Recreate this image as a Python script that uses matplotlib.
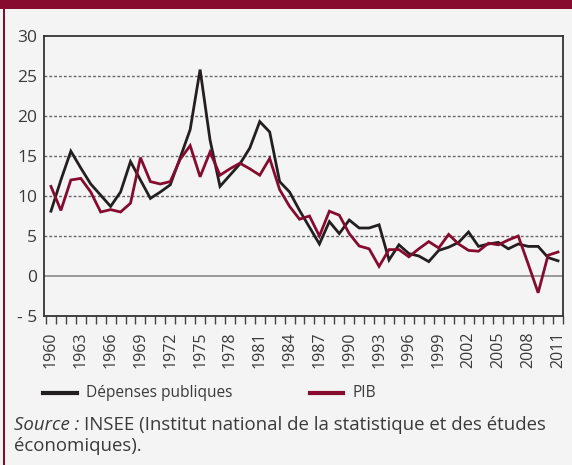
import matplotlib.pyplot as plt
from matplotlib.lines import Line2D
import numpy as np

# annual growth rates (%)
years = list(range(1960, 2012))
depenses = [8.1, 12.0, 15.6, 13.5, 11.5, 10.1, 8.7, 10.5, 14.3, 12.0,
            9.7, 10.5, 11.4, 14.8, 18.3, 25.8, 17.0, 11.2, 12.6, 14.0,
            16.0, 19.3, 18.0, 11.8, 10.5, 8.2, 6.1, 4.0, 6.8, 5.3,
            7.0, 6.0, 6.0, 6.4, 2.0, 3.9, 2.8, 2.5, 1.8, 3.2,
            3.6, 4.2, 5.5, 3.7, 4.0, 4.2, 3.4, 4.0, 3.7, 3.7,
            2.3, 1.9]
pib = [11.2, 8.2, 12.0, 12.2, 10.5, 8.0, 8.3, 8.0, 9.1, 14.8,
       11.8, 11.5, 11.8, 14.6, 16.3, 12.4, 15.5, 12.6, 13.4, 14.1,
       13.4, 12.6, 14.7, 10.8, 8.7, 7.1, 7.5, 5.0, 8.1, 7.6,
       5.3, 3.75, 3.4, 1.2, 3.3, 3.3, 2.4, 3.4, 4.3, 3.5,
       5.2, 4.0, 3.2, 3.1, 4.1, 3.9, 4.5, 5.0, 1.5, -2.1,
       2.6, 3.0]
label_years = list(range(1960, 2012, 3))
y_ticks = [-5, 0, 5, 10, 15, 20, 25, 30]

bg = "#f4f4f4"
red = "#870b2e"
black = "#231f20"
txt = "#3a3a3a"

plt.rcParams["font.family"] = ["Open Sans", "DejaVu Sans"]

fig = plt.figure(figsize=(5.72, 4.65), dpi=100, facecolor=bg)
ax = fig.add_axes([44 / 572, 1 - 316 / 465, (563 - 44) / 572, (316 - 36) / 465])
ax.set_facecolor(bg)

# grid lines (solid at zero, dotted elsewhere)
for v in y_ticks[2:-1]:
    ax.axhline(v, color="#666666", lw=1.0, ls=(0, (2, 1.5)), zorder=1)
ax.axhline(0, color="#888888", lw=1.2, zorder=1)

ax.plot(years, depenses, color=black, lw=2.0, zorder=3, solid_joinstyle="miter")
ax.plot(years, pib, color=red, lw=2.0, zorder=4, solid_joinstyle="miter")

ax.set_xlim(1959.3, 2011.5)
ax.set_ylim(-5, 30)

ax.set_yticks(y_ticks)
ax.set_yticklabels(["- 5" if v < 0 else str(v) for v in y_ticks])
ax.tick_params(axis="y", length=0, pad=5, labelsize=12.5, labelcolor=txt)

ax.set_xticks(label_years)
ax.set_xticklabels([str(y) for y in label_years], rotation=90)
ax.set_xticks(np.arange(1959.5, 2012, 1), minor=True)
ax.tick_params(axis="x", which="major", length=0, pad=11, labelsize=11.5, labelcolor=txt)
ax.tick_params(axis="x", which="minor", length=6, width=1.0, color="#444444", direction="out")

for s in ax.spines.values():
    s.set_color("#333333")
    s.set_linewidth(1.3)

# legend drawn by hand to match the layout
ly = 1 - 393 / 465
fig.add_artist(Line2D([43 / 572, 77 / 572], [ly, ly], color=black, lw=3))
fig.text(86 / 572, ly, "Dépenses publiques", va="center", ha="left",
         fontsize=11.2, color=txt)
fig.add_artist(Line2D([310 / 572, 343 / 572], [ly, ly], color=red, lw=3))
fig.text(352 / 572, ly, "PIB", va="center", ha="left", fontsize=11.2, color=txt)

# source note: italic lead-in, then the rest placed right after it
src = fig.text(14 / 572, 1 - 425 / 465, "Source :", style="italic", va="center", ha="left",
               fontsize=13.4, color=txt)
fig.canvas.draw()
bb = src.get_window_extent()
fig.text(bb.x1 / 572 + 5 / 572, 1 - 425 / 465,
         "INSEE (Institut national de la statistique et des études",
         va="center", ha="left", fontsize=13.4, color=txt)
fig.text(14 / 572, 1 - 446 / 465, "économiques).", va="center", ha="left",
         fontsize=13.4, color=txt)

# top band and left border
fig.add_artist(plt.Rectangle((0, 1 - 9 / 465), 1, 9 / 465, color=red, lw=0))
fig.add_artist(plt.Rectangle((3 / 572, 0), 2 / 572, 1 - 9 / 465, color=red, lw=0))

fig.savefig("out.png", dpi=100, facecolor=bg)
